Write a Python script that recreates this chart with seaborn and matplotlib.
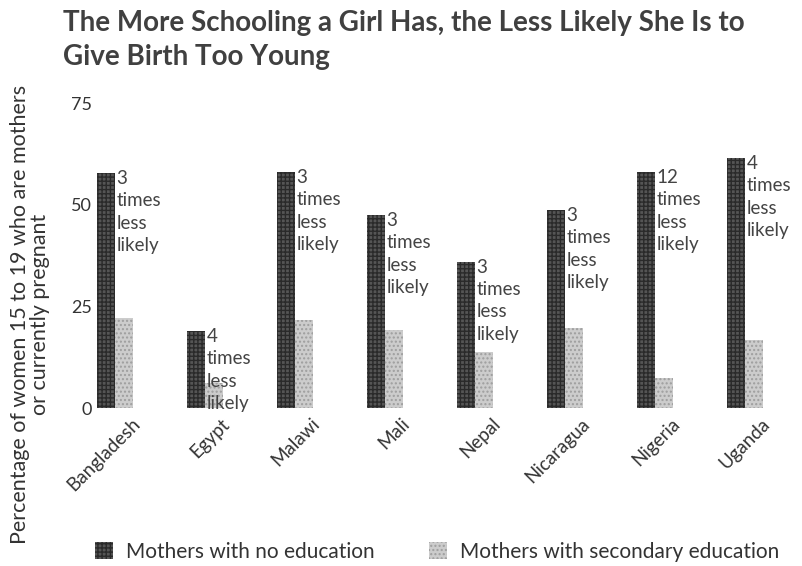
import matplotlib
matplotlib.use("Agg")
import matplotlib.pyplot as plt
import matplotlib.transforms as mtransforms
from matplotlib.patches import Patch
import seaborn as sns
import pandas as pd

countries = ["Bangladesh", "Egypt", "Malawi", "Mali", "Nepal", "Nicaragua", "Nigeria", "Uganda"]
no_education = [57.7, 18.9, 58.0, 47.4, 35.9, 48.6, 58.0, 61.4]
secondary_education = [22.1, 6.1, 21.6, 19.2, 13.8, 19.7, 7.4, 16.7]
times_less_likely = ["3", "4", "3", "3", "3", "3", "12", "4"]
series_names = ["Mothers with no education", "Mothers with secondary education"]
y_ticks = [0, 25, 50, 75]

df = pd.DataFrame({
    "country": countries * 2,
    "value": no_education + secondary_education,
    "group": [series_names[0]] * len(countries) + [series_names[1]] * len(countries),
})

sns.set_theme(style="white")
plt.rcParams["font.family"] = ["Lato", "DejaVu Sans"]

text_color = "#333333"
dark = "#555555"
light = "#cccccc"
dark_hatch = dict(hatch="++++", edgecolor="#2a2a2a", linewidth=0)
light_hatch = dict(hatch="....", edgecolor="#9e9e9e", linewidth=0)

fig = plt.figure(figsize=(8.02, 5.66), dpi=100)
ax = fig.add_axes([0.0873, 0.279, 0.898, 0.539])

sns.barplot(data=df, x="country", y="value", hue="group", order=countries,
            hue_order=series_names, palette=[dark, light], width=0.4,
            saturation=1, legend=False, ax=ax)

# halftone-like texture on the two series
for i, bar in enumerate(ax.patches):
    style = dark_hatch if i < len(countries) else light_hatch
    bar.set_hatch(style["hatch"])
    bar.set_edgecolor(style["edgecolor"])
    bar.set_linewidth(0)

# ratio notes beside the tall bars
for bar, ratio in zip(ax.patches[:len(countries)], times_less_likely):
    ax.text(bar.get_x() + bar.get_width() + 0.015, bar.get_height() + 0.8,
            f"{ratio}\ntimes\nless\nlikely", ha="left", va="top",
            fontsize=13.5, color="#444444", linespacing=1.38)

ax.set_xlim(-0.5, len(countries) - 0.5)
ax.set_ylim(0, 75)
ax.set_yticks(y_ticks)
ax.set_yticklabels([str(t) for t in y_ticks], fontsize=13, color=text_color)
ax.tick_params(axis="y", length=0, pad=-16)
ax.tick_params(axis="x", length=0, pad=5)
ax.set_xticks(range(len(countries)))
ax.set_xticklabels(countries, rotation=45, ha="right", rotation_mode="anchor",
                   fontsize=13.5, color=text_color)
shift = mtransforms.ScaledTranslation(16 / 100, 0, fig.dpi_scale_trans)
for lbl in ax.get_xticklabels():
    lbl.set_transform(lbl.get_transform() + shift)
ax.set_xlabel("")
ax.set_ylabel("")
for s in ax.spines.values():
    s.set_visible(False)

fig.text(0.037, 0.445,
         "Percentage of women 15 to 19 who are mothers\nor currently pregnant",
         rotation=90, ha="center", va="center", multialignment="center",
         fontsize=15.5, color=text_color, linespacing=1.0)

fig.text(0.078, 0.983, "The More Schooling a Girl Has, the Less Likely She Is to\nGive Birth Too Young",
         ha="left", va="top", fontsize=20, fontweight="bold", color="#404040",
         linespacing=1.38)

# legend swatches along the bottom
handles = [Patch(facecolor=dark, **dark_hatch), Patch(facecolor=light, **light_hatch)]
fig.legend(handles, series_names, loc="center left", bbox_to_anchor=(0.118, 0.025),
           ncol=2, frameon=False, fontsize=15, handlelength=0.9, handleheight=0.9,
           columnspacing=2.6, handletextpad=0.6, labelcolor=text_color,
           borderpad=0, borderaxespad=0)

fig.savefig("out.png", dpi=100, facecolor="white")
